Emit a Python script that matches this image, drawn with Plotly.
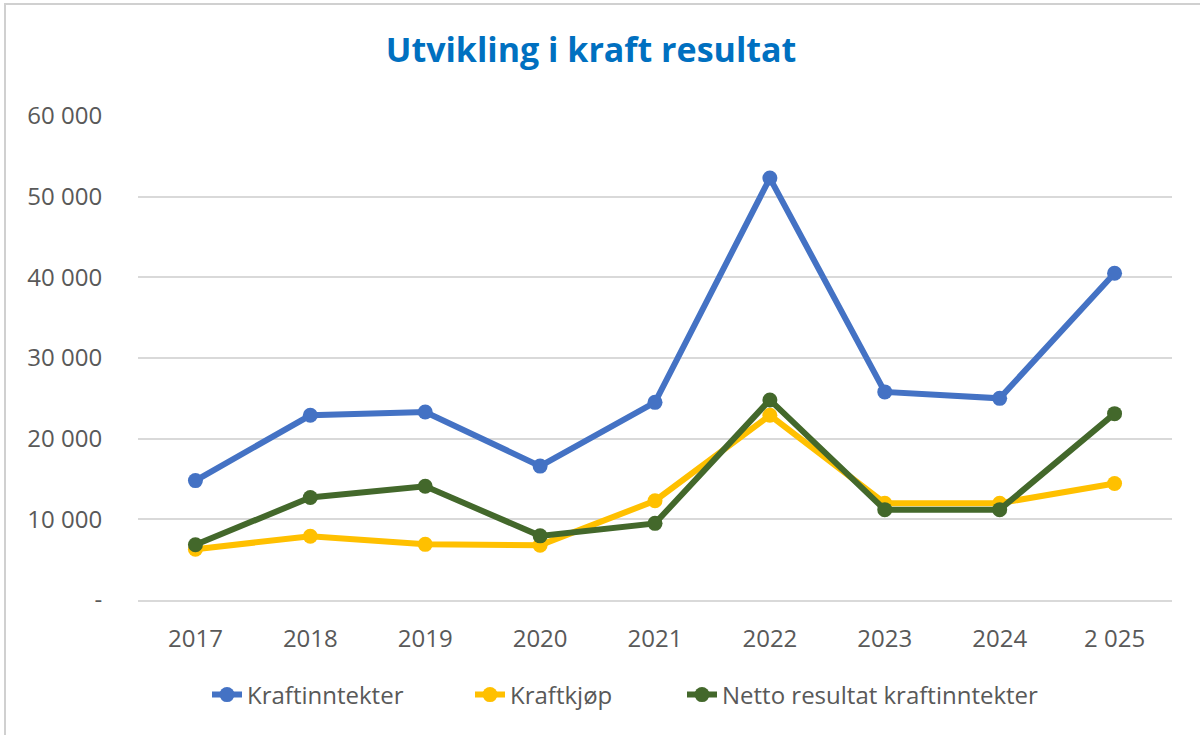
import plotly.graph_objects as go

years = ["2017", "2018", "2019", "2020", "2021", "2022", "2023", "2024", "2 025"]
kraftinntekter = [14800, 22900, 23300, 16600, 24500, 52300, 25800, 25000, 40500]
kraftkjop = [6300, 7900, 6900, 6800, 12300, 22900, 12000, 12000, 14450]
netto = [6850, 12700, 14100, 7950, 9500, 24800, 11200, 11200, 23100]

y_tickvals = [0, 10000, 20000, 30000, 40000, 50000, 60000]
y_ticktext = ["-", "10 000", "20 000", "30 000", "40 000", "50 000", "60 000"]

series = [
    ("Kraftinntekter", kraftinntekter, "#4472C4"),
    ("Kraftkjøp", kraftkjop, "#FFC000"),
    ("Netto resultat kraftinntekter", netto, "#43682B"),
]

W, H = 1200, 735
ML, MR, MT, MB = 138, 28, 116, 135
PW, PH = W - ML - MR, H - MT - MB
FONT = "Open Sans"
GRAY = "#595959"
FS = 24

legend_text_x = [248, 511, 723]  # px where each legend label starts
legend_y = 695

fig = go.Figure()
xs = list(range(len(years)))
legend_ids = ["legend", "legend2", "legend3"]
for (name, vals, color), lid in zip(series, legend_ids):
    fig.add_trace(go.Scatter(
        x=xs, y=vals, name=name, mode="lines+markers",
        line=dict(color=color, width=6),
        marker=dict(color=color, size=15),
        legend=lid,
    ))

legend_common = dict(
    orientation="h", xanchor="left", yanchor="middle",
    y=-(legend_y - (H - MB)) / PH,
    font=dict(size=FS, color=GRAY, family=FONT),
    bgcolor="rgba(0,0,0,0)", borderwidth=0,
)
legends = {}
for lid, tx in zip(legend_ids, legend_text_x):
    legends[lid] = dict(legend_common, x=(tx - 41 - ML) / PW)

fig.update_layout(
    width=W, height=H,
    margin=dict(l=ML, r=MR, t=MT, b=MB, autoexpand=False),
    paper_bgcolor="white", plot_bgcolor="white",
    font=dict(family=FONT, color=GRAY, size=FS),
    title=dict(
        text="<b>Utvikling i kraft resultat</b>",
        font=dict(family=FONT, size=34, color="#0070C0"),
        x=(385 + 797) / 2 / W, xanchor="center",
        y=1 - 50 / H, yanchor="middle", xref="container", yref="container",
    ),
    xaxis=dict(
        range=[-0.5, len(years) - 0.5],
        tickvals=xs, ticktext=years,
        showgrid=False, zeroline=False,
        showline=True, linecolor="#D9D9D9", linewidth=2,
        ticks="outside", ticklen=16, tickcolor="rgba(0,0,0,0)",
        tickfont=dict(size=FS, color=GRAY, family=FONT),
        fixedrange=True,
    ),
    yaxis=dict(
        range=[0, 60000],
        tickvals=y_tickvals, ticktext=y_ticktext,
        showgrid=True, gridcolor="#D9D9D9", gridwidth=2,
        zeroline=False, showline=False,
        ticks="outside", ticklen=30, tickcolor="rgba(0,0,0,0)",
        tickfont=dict(size=FS, color=GRAY, family=FONT),
        fixedrange=True,
    ),
    showlegend=True,
    **legends,
)

# light outer frame of the chart area
fig.add_shape(
    type="rect", xref="paper", yref="paper",
    x0=(5 - ML) / PW, x1=(1210 - ML) / PW,
    y0=-(745 - (H - MB)) / PH, y1=1 + (MT - 4) / PH,
    line=dict(color="#D0D0D0", width=2), fillcolor="rgba(0,0,0,0)", layer="below",
)

fig.write_html(
    "out.html",
    config={"displayModeBar": False},
    post_script="document.body.style.margin='0';document.body.style.overflow='hidden';",
)
